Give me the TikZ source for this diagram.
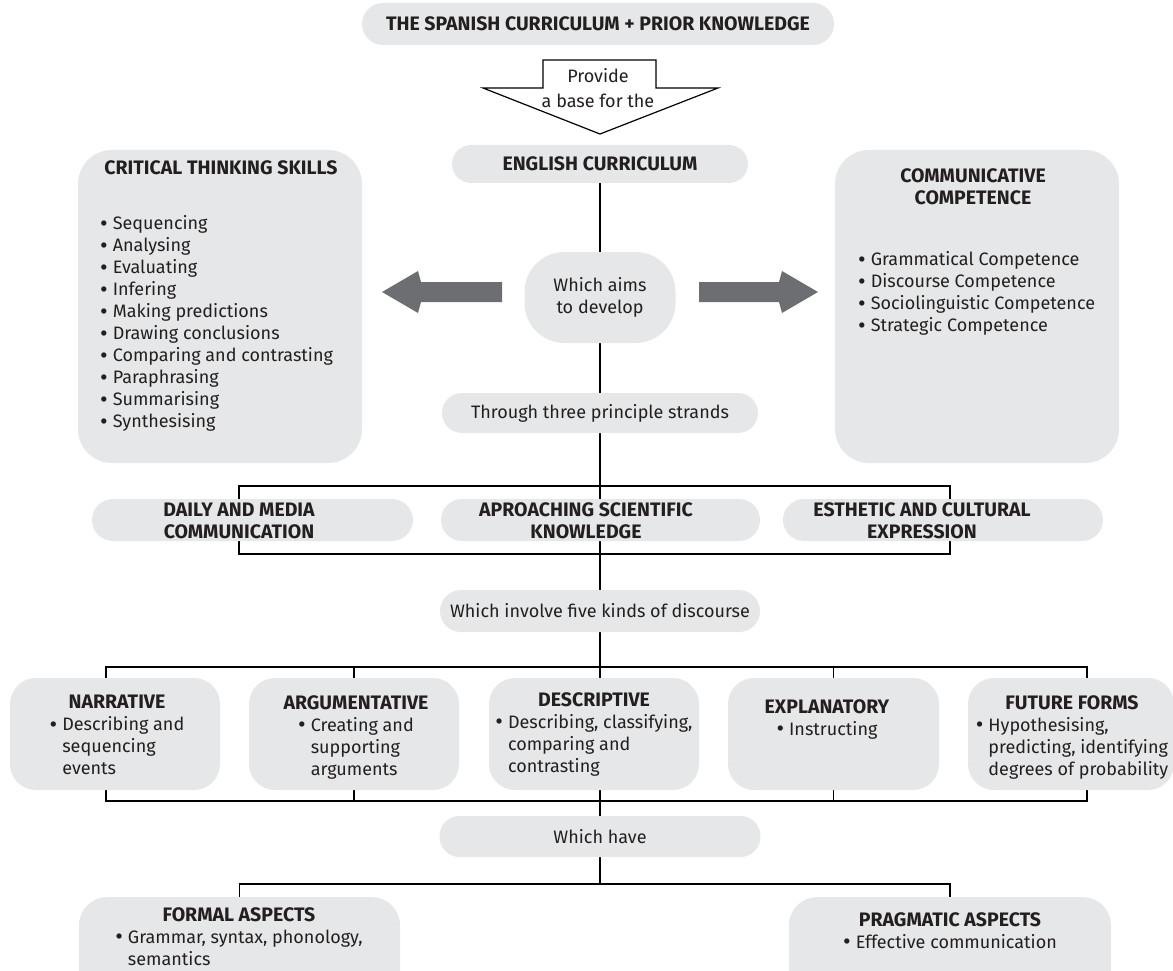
\documentclass[tikz,border=0pt]{standalone}
\usepackage{fontspec}
\setmainfont{Fira Sans}
\usetikzlibrary{backgrounds}

\definecolor{boxgray}{HTML}{E6E7E8}
\definecolor{arrowgray}{HTML}{6D6E71}
\definecolor{ink}{HTML}{231F20}

\newcommand{\bul}{\raisebox{-1.6pt}{\scalebox{1.3}{\textbullet}}}
\newcommand{\blist}[1]{\begin{tabular}[t]{@{}l@{\hspace{5pt}}l@{}}#1\end{tabular}}

\begin{document}
\begin{tikzpicture}[
    x=1pt, y=-1pt,
    every node/.style={text=ink, inner sep=0pt, font=\fontsize{18}{22}\selectfont},
    head/.style={font=\fontsize{19.5}{22}\selectfont\bfseries},
    pill/.style={fill=boxgray, rounded corners=21pt, minimum height=42pt},
    card/.style={fill=boxgray, rounded corners=28pt},
    conn/.style={draw=black, line width=1.6pt},
    blockarrow/.style={draw=black, fill=white, line width=1.2pt},
    fatarrow/.style={fill=arrowgray}
]
\useasboundingbox (0,0) rectangle (1173,971);
\clip (0,0) rectangle (1173,971);

% Topo
\node[pill, head, minimum width=472pt] (spn) at (598,24) {THE SPANISH CURRICULUM + PRIOR KNOWLEDGE};

\draw[blockarrow] (543,60) -- (656,60) -- (656,88) -- (718,88) -- (600,134) -- (483,88) -- (543,88) -- cycle;
\node[align=center] (prov) at (598,88) {Provide\\[3pt]a base for the};

\node[pill, head, minimum width=296pt, minimum height=38pt, rounded corners=19pt] (eng) at (600,164) {ENGLISH CURRICULUM};

% Caixas laterais
\node[card, minimum width=284pt, minimum height=313pt, rounded corners=34pt] (cts) at (220,306.5) {};
\node[head] (cts-h) at (221,168) {CRITICAL THINKING SKILLS};
\node[anchor=north west] (cts-l) at (100,214) {\blist{%
  \bul & Sequencing\\
  \bul & Analysing\\
  \bul & Evaluating\\
  \bul & Infering\\
  \bul & Making predictions\\
  \bul & Drawing conclusions\\
  \bul & Comparing and contrasting\\
  \bul & Paraphrasing\\
  \bul & Summarising\\
  \bul & Synthesising}};

\node[card, minimum width=284pt, minimum height=313pt, rounded corners=34pt] (cc) at (977,306.5) {};
\node[head, align=center] (cc-h) at (973,187) {COMMUNICATIVE\\COMPETENCE};
\node[anchor=north west] (cc-l) at (858,250) {\blist{%
  \bul & Grammatical Competence\\
  \bul & Discourse Competence\\
  \bul & Sociolinguistic Competence\\
  \bul & Strategic Competence}};

% Centro
\node[fill=boxgray, rounded corners=40pt, minimum width=151pt, minimum height=91pt, align=center] (aims) at (600,297.5) {Which aims\\to develop};
\fill[fatarrow] (502,282) -- (421,282) -- (418,271) -- (382,292) -- (418,313) -- (421,302) -- (502,302) -- cycle;
\fill[fatarrow] (699,282) -- (779,282) -- (782,271) -- (818,292) -- (782,313) -- (779,302) -- (699,302) -- cycle;

\node[pill, minimum width=316pt, minimum height=40pt, rounded corners=20pt] (thru) at (600,413) {Through three principle strands};

% Strands
\node[pill, minimum width=321pt] (dly) at (252.5,520) {};
\node[head, align=center] (dly-t) at (239,521) {DAILY AND MEDIA\\COMMUNICATION};
\node[pill, minimum width=319pt] (apr) at (600.5,520) {};
\node[head, align=center] (apr-t) at (586,521) {APROACHING SCIENTIFIC\\KNOWLEDGE};
\node[pill, minimum width=320pt] (est) at (943,520) {};
\node[head, align=center] (est-t) at (922,521) {ESTHETIC AND CULTURAL\\EXPRESSION};

\node[pill, minimum width=320pt] (wiv) at (600,611) {Which involve five kinds of discourse};

% Discursos
\node[card, minimum width=210pt, minimum height=112pt, rounded corners=26pt] (nar) at (115,734) {};
\node[anchor=north, align=center] (nar-t) at (117,695) {{\bfseries\fontsize{19.5}{22}\selectfont NARRATIVE}\\\blist{%
  \bul & Describing and\\ & sequencing\\ & events}};
\node[card, minimum width=210pt, minimum height=112pt, rounded corners=26pt] (arg) at (354,734) {};
\node[anchor=north, align=center] (arg-t) at (356,695) {{\bfseries\fontsize{19.5}{22}\selectfont ARGUMENTATIVE}\\\blist{%
  \bul & Creating and\\ & supporting\\ & arguments}};
\node[card, minimum width=210pt, minimum height=112pt, rounded corners=26pt] (des) at (594,734) {};
\node[anchor=north, align=center] (des-t) at (594,692) {{\bfseries\fontsize{19.5}{22}\selectfont DESCRIPTIVE}\\\blist{%
  \bul & Describing, classifying,\\ & comparing and\\ & contrasting}};
\node[card, minimum width=211pt, minimum height=112pt, rounded corners=26pt] (exp) at (833.5,734) {};
\node[anchor=north, align=center] (exp-t) at (827,699) {{\bfseries\fontsize{19.5}{22}\selectfont EXPLANATORY}\\\blist{%
  \bul & Instructing}};
\node[card, minimum width=206pt, minimum height=112pt, rounded corners=26pt] (fut) at (1071,734) {};
\node[anchor=north, align=center] (fut-t) at (1072,695) {{\bfseries\fontsize{19.5}{22}\selectfont FUTURE FORMS}\\\blist{%
  \bul & Hypothesising,\\ & predicting, identifying\\ & degrees of probability}};

\node[pill, minimum width=321pt, minimum height=41pt, rounded corners=20pt] (whv) at (600,836.5) {Which have};

% Aspectos
\node[card, anchor=north, minimum width=321pt, minimum height=110pt, rounded corners=28pt] (fml) at (239.5,897) {};
\node[anchor=north, align=center] (fml-t) at (239,907) {{\bfseries\fontsize{19.5}{22}\selectfont FORMAL ASPECTS}\\\blist{%
  \bul & Grammar, syntax, phonology,\\ & semantics}};
\node[card, anchor=north, minimum width=322pt, minimum height=110pt, rounded corners=28pt] (prg) at (950,897) {};
\node[anchor=north, align=center] (prg-t) at (950,912) {{\bfseries\fontsize{19.5}{22}\selectfont PRAGMATIC ASPECTS}\\\blist{%
  \bul & Effective communication}};

% Linhas
\coordinate (sb-tl) at (239,486);
\coordinate (sb-br) at (950,554);
\coordinate (fb-tl) at (106,667);
\coordinate (fb-br) at (1087,801);
\coordinate (bb-l) at (239,884);
\coordinate (bb-r) at (950,884);

\begin{scope}[on background layer]
\draw[conn] (eng) -- (aims);
\draw[conn] (aims) -- (thru);
\draw[conn] (thru) -- (wiv);
\draw[conn] (wiv) -- (whv);
\draw[conn] (whv) -- (whv |- bb-l);
\draw[conn] (sb-tl) rectangle (sb-br);
\draw[conn] (fb-tl) rectangle (fb-br);
\draw[conn] (arg.north |- fb-tl) -- (arg.south |- fb-br);
\draw[conn] (exp.north |- fb-tl) -- (exp.south |- fb-br);
\draw[conn] (fml.north) -- (fml.north |- bb-l) -- (prg.north |- bb-r) -- (prg.north);
\end{scope}

\end{tikzpicture}
\end{document}
